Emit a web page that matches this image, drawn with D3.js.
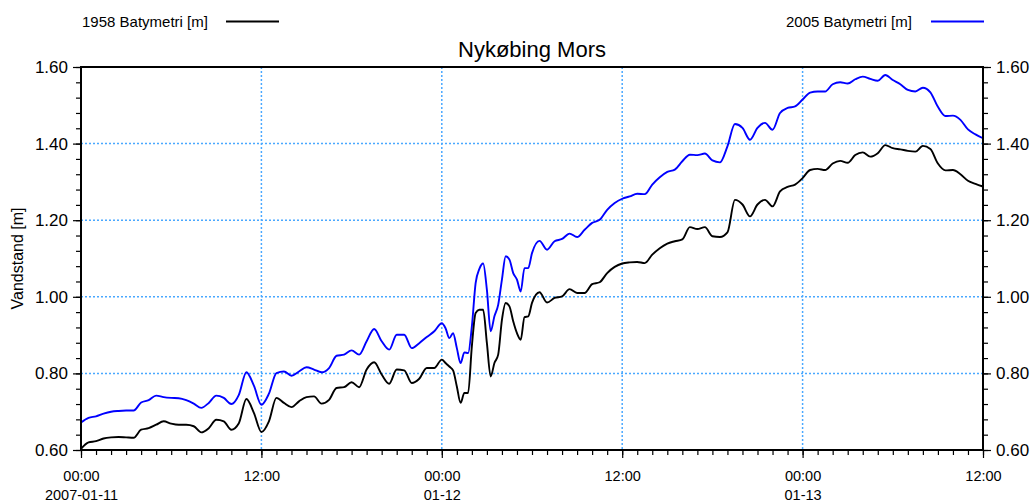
<!DOCTYPE html>
<html>
<head>
<meta charset="utf-8">
<script src="https://cdn.jsdelivr.net/npm/d3@7"></script>
<style>
  html, body { margin: 0; padding: 0; background: #fff; }
  svg { display: block; font-family: "Liberation Sans", Arial, sans-serif; }
</style>
</head>
<body>
<svg id="chart" width="1036" height="504"></svg>
<script>
// ---- data (hours since 2007-01-11 00:00) ----
const hours = [
  0,0.5,1,1.5,2,2.5,3,3.5,4,4.5,5,5.5,6,6.5,7,7.5,8,8.5,9,9.5,10,10.5,11,11.5,12,
  12.5,13,13.5,14,14.5,15,15.5,16,16.5,17,17.5,18,18.5,19,19.5,20,20.5,21,21.5,22,22.5,23,23.5,24,
  24.25,24.5,24.75,25,25.25,25.5,25.75,26,26.25,26.5,26.75,27,27.25,27.5,27.75,28,28.25,28.5,28.75,29,29.25,29.5,29.75,30,
  30.5,31,31.5,32,32.5,33,33.5,34,34.5,35,35.5,36,
  36.5,37,37.5,38,38.5,39,39.5,40,40.5,41,41.5,42,42.5,43,43.5,44,44.5,45,45.5,46,46.5,47,47.5,48,
  48.5,49,49.5,50,50.5,51,51.5,52,52.5,53,53.5,54,54.5,55,55.5,56,56.5,57,57.5,58,58.5,59,59.5,60
];
const bathy2005 = [
  0.672,0.684,0.688,0.695,0.700,0.702,0.703,0.703,0.724,0.730,0.742,0.738,0.736,0.735,0.730,0.721,0.710,0.723,0.742,0.736,0.720,0.744,0.803,0.768,0.718,
  0.747,0.801,0.805,0.794,0.805,0.816,0.810,0.803,0.814,0.846,0.849,0.860,0.849,0.884,0.916,0.884,0.862,0.901,0.901,0.866,0.879,0.895,0.910,0.931,
  0.918,0.892,0.905,0.866,0.827,0.855,0.853,0.923,1.036,1.073,1.087,1.018,0.910,0.949,0.979,1.045,1.106,1.097,1.062,1.045,1.014,1.075,1.075,1.114,
  1.146,1.123,1.145,1.151,1.165,1.156,1.175,1.193,1.201,1.227,1.245,1.256,
  1.262,1.269,1.268,1.293,1.312,1.326,1.332,1.354,1.371,1.370,1.374,1.356,1.351,1.393,1.451,1.441,1.410,1.441,1.454,1.436,1.480,1.493,1.497,1.515,
  1.533,1.536,1.536,1.555,1.560,1.557,1.568,1.575,1.569,1.564,1.579,1.566,1.555,1.540,1.536,1.546,1.534,1.496,1.472,1.473,1.462,1.437,1.424,1.414
];
const bathy1958 = [
  0.603,0.620,0.623,0.630,0.633,0.634,0.633,0.632,0.653,0.657,0.666,0.675,0.669,0.666,0.666,0.662,0.646,0.657,0.679,0.675,0.653,0.670,0.733,0.697,0.647,
  0.675,0.736,0.723,0.712,0.727,0.738,0.740,0.721,0.731,0.762,0.764,0.777,0.764,0.810,0.829,0.797,0.773,0.810,0.808,0.775,0.786,0.814,0.814,0.836,
  0.827,0.818,0.808,0.766,0.723,0.749,0.749,0.871,0.958,0.966,0.966,0.879,0.792,0.827,0.849,0.940,0.984,0.975,0.936,0.905,0.888,0.947,0.949,0.984,
  1.012,0.985,0.997,1.001,1.020,1.010,1.010,1.033,1.038,1.062,1.078,1.087,
  1.090,1.091,1.088,1.110,1.127,1.139,1.145,1.150,1.182,1.177,1.182,1.158,1.156,1.168,1.253,1.241,1.210,1.241,1.253,1.236,1.275,1.287,1.293,1.310,
  1.331,1.334,1.331,1.348,1.355,1.350,1.370,1.377,1.366,1.375,1.396,1.388,1.385,1.381,1.379,1.394,1.386,1.348,1.330,1.331,1.320,1.303,1.295,1.288
];
const yTicks = [0.60, 0.80, 1.00, 1.20, 1.40, 1.60];
const xTickTime = ["00:00","12:00","00:00","12:00","00:00","12:00"];
const xTickDate = ["2007-01-11","","01-12","","01-13",""];
const seriesNames = ["1958 Batymetri [m]", "2005 Batymetri [m]"];
const title = "Nykøbing Mors";
const yLabel = "Vandstand [m]";

// ---- layout ----
const L = 81, R = 983, T = 67, B = 450;
const t0 = new Date(2007, 0, 11, 0, 0);
const t1 = new Date(2007, 0, 13, 12, 0);
const toDate = h => new Date(t0.getTime() + h * 3600000);

const svg = d3.select("#chart");
const x = d3.scaleTime().domain([t0, t1]).range([L, R]);
const y = d3.scaleLinear().domain([0.6, 1.6]).range([B, T]);

const gridColor = "#4aa8ff";
// grid
const majorTimes = d3.timeHour.every(12).range(t0, d3.timeHour.offset(t1, 1));
svg.append("g").selectAll("line").data(majorTimes.slice(1, -1)).join("line")
  .attr("x1", d => x(d)).attr("x2", d => x(d)).attr("y1", T).attr("y2", B)
  .attr("stroke", gridColor).attr("stroke-width", 1.5).attr("stroke-dasharray", "2,2");
svg.append("g").selectAll("line").data(yTicks.slice(1, -1)).join("line")
  .attr("x1", L).attr("x2", R).attr("y1", d => y(d)).attr("y2", d => y(d))
  .attr("stroke", gridColor).attr("stroke-width", 1.5).attr("stroke-dasharray", "2,2");

// lines
const data1958 = hours.map((h, i) => [toDate(h), bathy1958[i]]);
const data2005 = hours.map((h, i) => [toDate(h), bathy2005[i]]);
const line = d3.line().x(d => x(d[0])).y(d => y(d[1])).curve(d3.curveMonotoneX);
svg.append("path").attr("d", line(data2005)).attr("fill", "none")
  .attr("stroke", "#0000ff").attr("stroke-width", 1.9).attr("stroke-linejoin", "round");
svg.append("path").attr("d", line(data1958)).attr("fill", "none")
  .attr("stroke", "#000000").attr("stroke-width", 1.9).attr("stroke-linejoin", "round");

// axes
function styleAxis(g) {
  g.select(".domain").remove();
  g.selectAll("line").attr("stroke", "#000").attr("stroke-width", 1.2);
  g.selectAll("text").attr("fill", "#000");
}
const minorY = d3.range(0, 26).map(i => 0.6 + i * 0.04);
svg.append("g").attr("transform", `translate(${L},0)`)
  .call(d3.axisLeft(y).tickValues(minorY).tickSize(5).tickFormat(""))
  .call(styleAxis);
svg.append("g").attr("transform", `translate(${L},0)`)
  .call(d3.axisLeft(y).tickValues(yTicks).tickSize(8).tickPadding(5).tickFormat(d3.format(".2f")))
  .call(styleAxis)
  .selectAll("text").style("font-size", "17px");
svg.append("g").attr("transform", `translate(${R},0)`)
  .call(d3.axisRight(y).tickValues(minorY).tickSize(5).tickFormat(""))
  .call(styleAxis);
svg.append("g").attr("transform", `translate(${R},0)`)
  .call(d3.axisRight(y).tickValues(yTicks).tickSize(8).tickPadding(5).tickFormat(d3.format(".2f")))
  .call(styleAxis)
  .selectAll("text").style("font-size", "17px");

const minorX = d3.timeHour.every(1).range(t0, d3.timeHour.offset(t1, 1));
svg.append("g").attr("transform", `translate(0,${B})`)
  .call(d3.axisBottom(x).tickValues(minorX).tickSize(5).tickFormat(""))
  .call(styleAxis);
const xAx = svg.append("g").attr("transform", `translate(0,${B})`)
  .call(d3.axisBottom(x).tickValues(majorTimes).tickSize(8).tickFormat(""))
  .call(styleAxis);
xAx.selectAll(".tick").each(function(d, i) {
  const t = d3.select(this).append("text").attr("fill", "#000").attr("text-anchor", "middle")
    .style("font-size", "14.5px");
  t.append("tspan").attr("x", 0).attr("y", 31).text(xTickTime[i]);
  t.append("tspan").attr("x", 0).attr("y", 50).text(xTickDate[i]);
});

// frame
svg.append("rect").attr("x", L).attr("y", T).attr("width", R - L).attr("height", B - T)
  .attr("fill", "none").attr("stroke", "#000").attr("stroke-width", 2);

// title
svg.append("text").attr("x", 532).attr("y", 57).attr("text-anchor", "middle")
  .style("font-size", "22px").attr("fill", "#000").text(title);

// y label
svg.append("text").attr("transform", `translate(23,${(T + B) / 2}) rotate(-90)`)
  .attr("text-anchor", "middle").style("font-size", "16px").attr("fill", "#000").text(yLabel);

// legend
const legend = [
  { name: seriesNames[0], color: "#000000", tx: 82, lx: 226 },
  { name: seriesNames[1], color: "#0000ff", tx: 786, lx: 931 }
];
legend.forEach(d => {
  svg.append("text").attr("x", d.tx).attr("y", 27).style("font-size", "15px")
    .attr("fill", "#000").text(d.name);
  svg.append("line").attr("x1", d.lx).attr("x2", d.lx + 53).attr("y1", 21.5).attr("y2", 21.5)
    .attr("stroke", d.color).attr("stroke-width", 2);
});
</script>
</body>
</html>
